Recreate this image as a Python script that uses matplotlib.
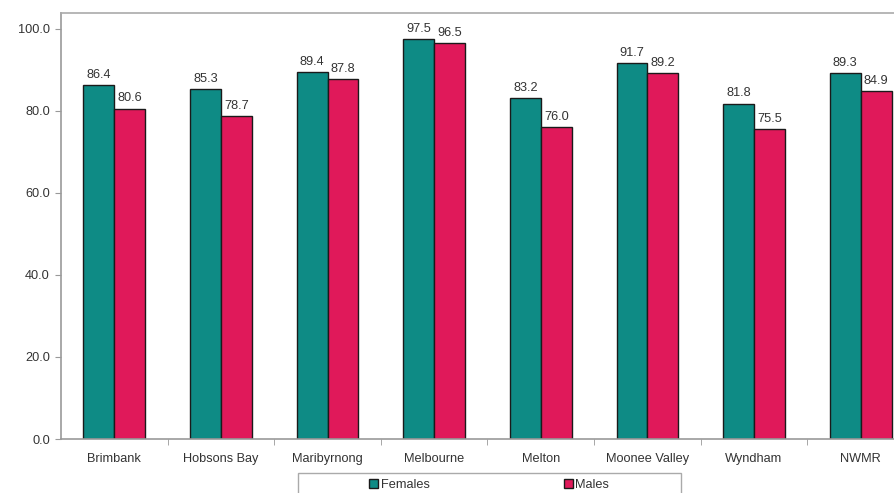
import numpy as np
import matplotlib.pyplot as plt
from matplotlib.patches import Rectangle

plt.rcParams['font.family'] = ['Liberation Sans', 'DejaVu Sans']

# data
regions = ['Brimbank', 'Hobsons Bay', 'Maribyrnong', 'Melbourne', 'Melton',
           'Moonee Valley', 'Wyndham', 'NWMR']
females = [86.4, 85.3, 89.4, 97.5, 83.2, 91.7, 81.8, 89.3]
males = [80.6, 78.7, 87.8, 96.5, 76.0, 89.2, 75.5, 84.9]

teal = '#0E8B85'
crimson = '#E0195A'
txt = '#333333'
fs = 9.2

fig = plt.figure(figsize=(8.94, 4.93), dpi=100)
ax = fig.add_axes([61 / 894, 54 / 493, 853 / 894, 426 / 493])

x = np.arange(len(regions))
w = 0.29
b1 = ax.bar(x - w / 2, females, w, color=teal, edgecolor='#1a1a1a', linewidth=1.0, label='Females')
b2 = ax.bar(x + w / 2, males, w, color=crimson, edgecolor='#1a1a1a', linewidth=1.0, label='Males')

for bars in (b1, b2):
    ax.bar_label(bars, fmt='%.1f', padding=3, fontsize=fs, color=txt)

ax.set_xlim(-0.5, len(regions) - 0.5)
ax.set_ylim(0, 103.9)
ax.set_yticks(np.arange(0, 101, 20))
ax.set_yticklabels([f'{v:.1f}' for v in np.arange(0, 101, 20)], fontsize=fs, color=txt)
ax.set_xticks(x)
ax.set_xticklabels(regions, fontsize=fs, color=txt)
ax.tick_params(axis='x', length=0, pad=10)
ax.set_xticks(np.arange(0.5, len(regions) - 0.5, 1), minor=True)
ax.tick_params(axis='x', which='minor', length=4, color='#999999', direction='out')
ax.tick_params(axis='y', length=4, color='#999999', pad=4)

ax.spines['left'].set_color('#999999')
ax.spines['bottom'].set_color('#999999')
ax.spines['top'].set_color('#aaaaaa')
ax.spines['right'].set_visible(False)
for s in ('left', 'bottom', 'top'):
    ax.spines[s].set_linewidth(1.2)

# legend box, cut off at the bottom like the original
fig.patches.append(Rectangle((298 / 894, -10 / 493), 383 / 894, 30 / 493,
                             transform=fig.transFigure, facecolor='white',
                             edgecolor='#aaaaaa', linewidth=1.0))
fig.legend(handles=[b1, b2], loc='center', bbox_to_anchor=(489 / 894, 8 / 493),
           ncol=2, frameon=False, fontsize=fs, handlelength=0.7, handleheight=0.7,
           handletextpad=0.2, columnspacing=10.5, labelcolor=txt)

fig.savefig('out.png', dpi=100)
